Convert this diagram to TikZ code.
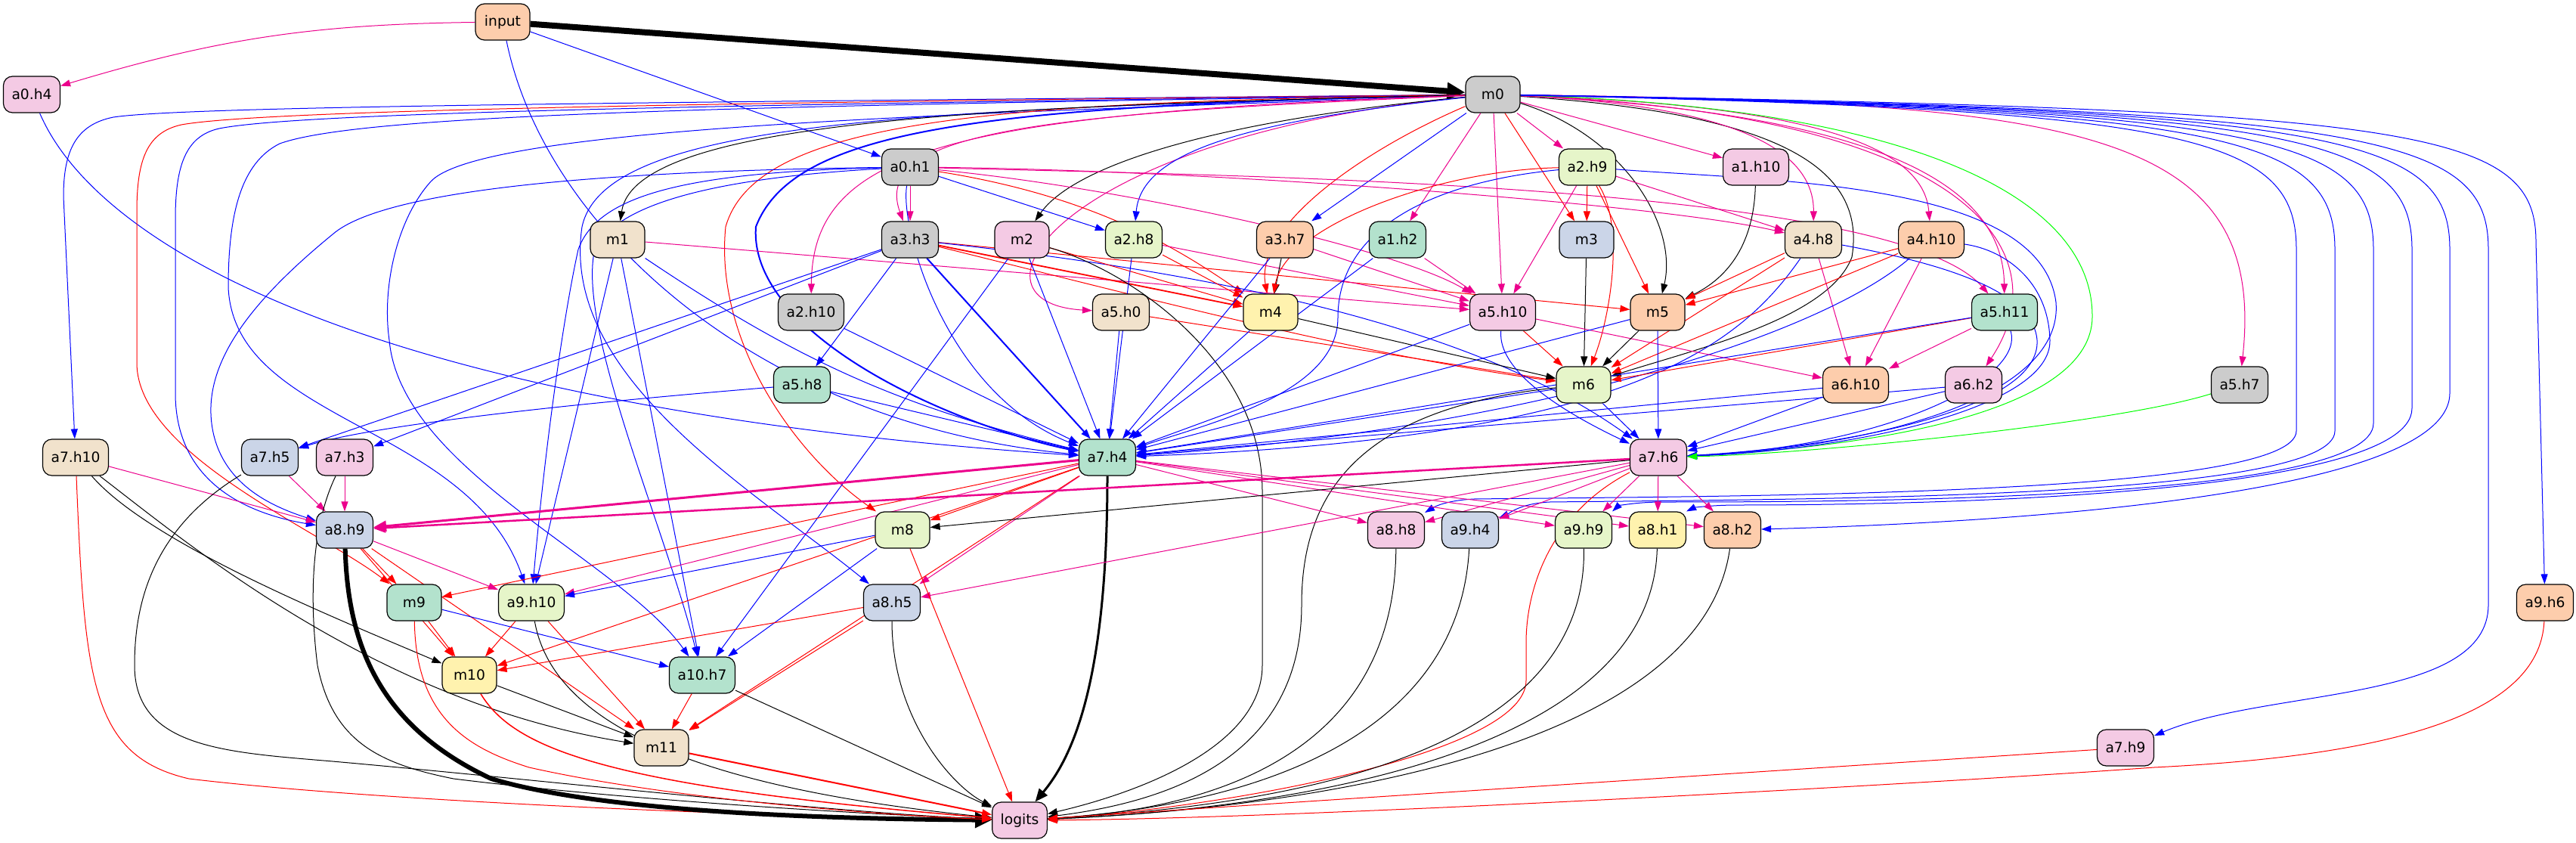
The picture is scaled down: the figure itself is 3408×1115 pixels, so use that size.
\documentclass[tikz,border=0pt]{standalone}
\usepackage{fontspec}
\setmainfont{DejaVu Sans}
\usetikzlibrary{arrows.meta}
\definecolor{cgreen}{HTML}{B3E2CD}
\definecolor{corange}{HTML}{FDCDAC}
\definecolor{cblue}{HTML}{CBD5E8}
\definecolor{cpink}{HTML}{F4CAE4}
\definecolor{clime}{HTML}{E6F5C9}
\definecolor{cyellow}{HTML}{FFF2AE}
\definecolor{cbeige}{HTML}{F1E2CC}
\definecolor{cgrey}{HTML}{CCCCCC}
\pgfdeclarelayer{back}
\pgfdeclarelayer{bg}
\pgfsetlayers{back,bg,main}
\tikzset{
  nd/.style={draw=black, line width=1.2pt, rounded corners=12pt, minimum width=72pt, minimum height=48pt, inner xsep=11pt, inner ysep=0pt, font=\fontsize{18.67pt}{22pt}\selectfont},
  edg/.style={line width=1pt, -{Triangle[length=13pt,width=9pt]}},
  eb/.style={edg, draw=blue},
  er/.style={edg, draw=red},
  em/.style={edg, draw=magenta},
  ek/.style={edg, draw=black},
  eg/.style={edg, draw=green},
}
\begin{document}
\begin{tikzpicture}[x=1pt,y=1pt]
\useasboundingbox (0,0) rectangle (3408,-1115);
\begin{pgfonlayer}{back}
\fill[white] (0,0) rectangle (3408,-1115);
\end{pgfonlayer}
% nodes
\node[nd, fill=corange] (input) at (665,-29) {input};
\node[nd, fill=cgrey] (m0) at (1975,-125) {m0};
\node[nd, fill=cpink] (a0h4) at (42,-125) {a0.h4};
\node[nd, fill=cgrey] (a0h1) at (1204,-221) {a0.h1};
\node[nd, fill=clime] (a2h9) at (2100,-221) {a2.h9};
\node[nd, fill=cpink] (a1h10) at (2323,-221) {a1.h10};
\node[nd, fill=cbeige] (m1) at (817,-317) {m1};
\node[nd, fill=cgrey] (a3h3) at (1204,-317) {a3.h3};
\node[nd, fill=cpink] (m2) at (1352,-317) {m2};
\node[nd, fill=clime] (a2h8) at (1500,-317) {a2.h8};
\node[nd, fill=corange] (a3h7) at (1700,-317) {a3.h7};
\node[nd, fill=cgreen] (a1h2) at (1849,-317) {a1.h2};
\node[nd, fill=cblue] (m3) at (2099,-317) {m3};
\node[nd, fill=cbeige] (a4h8) at (2399,-317) {a4.h8};
\node[nd, fill=corange] (a4h10) at (2555,-317) {a4.h10};
\node[nd, fill=cgrey] (a2h10) at (1073,-413) {a2.h10};
\node[nd, fill=cbeige] (a5h0) at (1483,-413) {a5.h0};
\node[nd, fill=cyellow] (m4) at (1681,-413) {m4};
\node[nd, fill=cpink] (a5h10) at (1988,-413) {a5.h10};
\node[nd, fill=corange] (m5) at (2193,-413) {m5};
\node[nd, fill=cgreen] (a5h11) at (2652,-413) {a5.h11};
\node[nd, fill=cgreen] (a5h8) at (1061,-509) {a5.h8};
\node[nd, fill=clime] (m6) at (2095,-509) {m6};
\node[nd, fill=corange] (a6h10) at (2455,-509) {a6.h10};
\node[nd, fill=cpink] (a6h2) at (2611,-509) {a6.h2};
\node[nd, fill=cgrey] (a5h7) at (2963,-509) {a5.h7};
\node[nd, fill=cbeige] (a7h10) at (100,-605) {a7.h10};
\node[nd, fill=cblue] (a7h5) at (357,-605) {a7.h5};
\node[nd, fill=cpink] (a7h3) at (456,-605) {a7.h3};
\node[nd, fill=cgreen] (a7h4) at (1465,-605) {a7.h4};
\node[nd, fill=cpink] (a7h6) at (2194,-605) {a7.h6};
\node[nd, fill=cblue] (a8h9) at (456,-701) {a8.h9};
\node[nd, fill=clime] (m8) at (1194,-701) {m8};
\node[nd, fill=cpink] (a8h8) at (1847,-701) {a8.h8};
\node[nd, fill=cblue] (a9h4) at (1945,-701) {a9.h4};
\node[nd, fill=clime] (a9h9) at (2095,-701) {a9.h9};
\node[nd, fill=cyellow] (a8h1) at (2193,-701) {a8.h1};
\node[nd, fill=corange] (a8h2) at (2292,-701) {a8.h2};
\node[nd, fill=cgreen] (m9) at (548,-797) {m9};
\node[nd, fill=clime] (a9h10) at (703,-797) {a9.h10};
\node[nd, fill=cblue] (a8h5) at (1180,-797) {a8.h5};
\node[nd, fill=corange] (a9h6) at (3367,-797) {a9.h6};
\node[nd, fill=cyellow] (m10) at (621,-893) {m10};
\node[nd, fill=cgreen] (a10h7) at (929,-893) {a10.h7};
\node[nd, fill=cbeige] (m11) at (875,-989) {m11};
\node[nd, fill=cpink] (a7h9) at (2812,-989) {a7.h9};
\node[nd, fill=cpink] (logits) at (1349,-1085) {logits};
\begin{pgfonlayer}{bg}
% input
\draw[ek, line width=8pt, -{Triangle[length=24pt,width=22pt]}] (input) -- (m0);
\draw[em] (input) to[bend right=8] (a0h4);
\draw[eb] (input) -- (a0h1);
\draw[eb] (input) .. controls (720,-300) and (1000,-560) .. (a7h4);
% a0h4
\draw[eb] (a0h4) .. controls (130,-330) and (500,-540) .. (a7h4);
% m0 left fan
\draw[eb] (m0) .. controls (900,-135) and (250,-140) .. (150,-155) .. controls (100,-165) and (84,-200) .. (84,-260) -- (a7h10);
\draw[er] (m0) .. controls (1000,-135) and (350,-145) .. (240,-165) .. controls (195,-175) and (181,-210) .. (181,-280) -- (181,-480) .. controls (181,-600) and (420,-700) .. (m9);
\draw[eb] (m0) .. controls (1000,-138) and (400,-148) .. (290,-170) .. controls (245,-180) and (232,-220) .. (232,-290) -- (232,-520) .. controls (232,-640) and (330,-680) .. (a8h9);
\draw[eb] (m0) .. controls (1000,-140) and (480,-150) .. (370,-190) .. controls (320,-215) and (302,-280) .. (302,-380) .. controls (310,-560) and (620,-560) .. (a9h10);
\draw[eb] (m0) .. controls (1300,-150) and (640,-165) .. (570,-240) .. controls (525,-290) and (505,-380) .. (515,-450) .. controls (530,-620) and (820,-740) .. (a10h7);
\draw[eb] (m0) .. controls (1200,-145) and (800,-160) .. (770,-300) .. controls (740,-500) and (1000,-650) .. (a8h5);
\draw[eb, line width=2pt] (m0) .. controls (1300,-140) and (1050,-170) .. (1000,-300) .. controls (990,-440) and (1250,-560) .. (a7h4);
\draw[er] (m0) .. controls (1300,-135) and (1000,-160) .. (960,-300) .. controls (945,-450) and (1050,-600) .. (m8);
\draw[ek] (m0) .. controls (1300,-140) and (840,-160) .. (m1);
\draw[em] (m0) .. controls (1400,-150) and (1150,-170) .. (a3h3);
\draw[em] (m0) .. controls (1250,-150) and (1075,-200) .. (a2h10);
\draw[em] (m0) .. controls (1400,-180) and (1260,-400) .. (a5h0);
\draw[ek] (m0) .. controls (1600,-160) and (1420,-220) .. (m2);
\draw[eb] (m0) .. controls (1650,-160) and (1510,-200) .. (a2h8);
\draw[er] (m0) .. controls (1800,-200) and (1660,-300) .. (m4);
\draw[eb] (m0) -- (a3h7);
\draw[em] (m0) -- (a1h2);
\draw[em] (m0) -- (a5h10);
\draw[er] (m0) -- (m3);
\draw[em] (m0) -- (a2h9);
\draw[em] (m0) -- (a1h10);
% m0 right fan
\draw[ek] (m0) .. controls (2150,-180) and (2220,-300) .. (m5);
\draw[ek] (m0) .. controls (2350,-150) and (2470,-220) .. (2450,-340) .. controls (2420,-420) and (2250,-460) .. (m6);
\draw[em] (m0) .. controls (2300,-140) and (2400,-200) .. (a4h8);
\draw[em] (m0) .. controls (2420,-140) and (2545,-200) .. (a4h10);
\draw[em] (m0) .. controls (2500,-150) and (2650,-250) .. (a5h11);
\draw[em] (m0) .. controls (2600,-150) and (2730,-330) .. (a6h2);
\draw[eg] (m0) .. controls (2500,-140) and (2770,-250) .. (2768,-420) .. controls (2766,-540) and (2500,-590) .. (a7h6);
\draw[em] (m0) .. controls (2750,-135) and (3000,-170) .. (a5h7);
\draw[eb] (m0) .. controls (3200,-145) and (3355,-170) .. (3355,-320) -- (a9h6);
\draw[eb] (m0) .. controls (3150,-145) and (3292,-180) .. (3292,-330) -- (3292,-800) .. controls (3292,-930) and (3000,-910) .. (a7h9);
\draw[eb] (m0) .. controls (3100,-145) and (3241,-180) .. (3241,-330) -- (3241,-520) .. controls (3241,-650) and (2700,-690) .. (a8h2);
\draw[eb] (m0) .. controls (3050,-145) and (3191,-180) .. (3191,-330) -- (3191,-540) .. controls (3191,-660) and (2500,-668) .. (2300,-668) .. controls (2260,-668) and (2240,-672) .. (a8h1.north east);
\draw[eb] (m0) .. controls (3000,-145) and (3140,-180) .. (3140,-330) -- (3140,-560) .. controls (3140,-662) and (2450,-664) .. (2200,-664) .. controls (2160,-664) and (2140,-670) .. (a9h9.north east);
\draw[eb] (m0) .. controls (2950,-145) and (3089,-180) .. (3089,-330) -- (3089,-570) .. controls (3089,-660) and (2400,-660) .. (2050,-664) .. controls (2010,-666) and (1995,-680) .. (a9h4);
\draw[eb] (m0) .. controls (2900,-145) and (3038,-180) .. (3038,-330) -- (3038,-570) .. controls (3038,-656) and (2300,-656) .. (1950,-660) .. controls (1910,-662) and (1895,-672) .. (a8h8);
% a0h1
\draw[em] (a0h1) -- (a3h3);
\draw[eb] (a0h1) -- (a2h8);
\draw[er] (a0h1) .. controls (1450,-260) and (1560,-330) .. (m4);
\draw[em] (a0h1) .. controls (1600,-225) and (2200,-270) .. (a4h8);
\draw[em] (a0h1) .. controls (1600,-232) and (2500,-240) .. (a5h11);
\draw[em] (a0h1) .. controls (1500,-250) and (1850,-330) .. (a5h10);
\draw[eb] (a0h1) .. controls (1190,-300) and (1250,-520) .. (a7h4);
\draw[eb] (a0h1) .. controls (900,-225) and (520,-240) .. (440,-310) .. controls (330,-400) and (270,-480) .. (280,-560) .. controls (290,-640) and (360,-670) .. (a8h9);
\draw[eb] (a0h1) .. controls (900,-228) and (790,-260) .. (765,-330) .. controls (745,-420) and (720,-600) .. (a9h10);
\draw[eb] (a0h1) .. controls (950,-235) and (800,-270) .. (785,-340) .. controls (770,-450) and (880,-700) .. (a10h7);
% m1
\draw[em] (m1) -- (a5h10);
\draw[eb] (m1) to[bend right=10] (a7h4);
\draw[eb] (m1) -- (a9h10);
\draw[eb] (m1) -- (a10h7);
% a3h3
\draw[er, line width=1.8pt] (a3h3) -- (m4);
\draw[er] (a3h3) -- (m5);
\draw[er] (a3h3) .. controls (1500,-390) and (1800,-470) .. (m6);
\draw[eb] (a3h3) -- (a5h8);
\draw[eb] (a3h3) -- (a7h5);
\draw[eb] (a3h3) -- (a7h3);
\draw[eb, line width=2pt] (a3h3) -- (a7h4);
\draw[eb] (a3h3) .. controls (1600,-360) and (1950,-430) .. (a7h6);
% m2
\draw[eb] (m2) -- (a7h4);
\draw[eb] (m2) -- (a10h7);
\draw[er] (m2) -- (m4);
\draw[ek] (m2) .. controls (1500,-360) and (1670,-480) .. (1670,-650) -- (1670,-880) .. controls (1670,-990) and (1500,-1050) .. (logits);
% a2h8, a3h7, a1h2
\draw[eb] (a2h8) -- (a7h4);
\draw[em] (a2h8) -- (a5h10);
\draw[er] (a2h8) -- (m4);
\draw[ek] (a3h7) -- (m4);
\draw[em] (a3h7) -- (a5h10);
\draw[eb] (a3h7) -- (a7h4);
\draw[em] (a1h2) -- (a5h10);
\draw[eb] (a1h2) -- (a7h4);
% a2h9
\draw[er] (a2h9) -- (m3);
\draw[em] (a2h9) -- (a4h8);
\draw[em] (a2h9) -- (a5h10);
\draw[er] (a2h9) .. controls (1900,-225) and (1700,-300) .. (m4);
\draw[eb] (a2h9) .. controls (1900,-240) and (1770,-300) .. (1770,-420) .. controls (1770,-520) and (1600,-560) .. (a7h4);
\draw[er] (a2h9) -- (m5);
\draw[er] (a2h9) .. controls (2150,-300) and (2130,-420) .. (m6);
\draw[eb] (a2h9) .. controls (2350,-240) and (2700,-240) .. (2720,-400) .. controls (2730,-520) and (2500,-590) .. (a7h6);
% a1h10, m3
\draw[ek] (a1h10) .. controls (2320,-330) and (2280,-370) .. (m5);
\draw[ek] (m3) -- (m6);
% a4h8
\draw[er] (a4h8) -- (m5);
\draw[er] (a4h8) -- (m6);
\draw[em] (a4h8) -- (a6h10);
\draw[eb] (a4h8) .. controls (2300,-460) and (2150,-580) .. (a7h4);
\draw[eb] (a4h8) .. controls (2550,-345) and (2690,-380) .. (2695,-450) .. controls (2700,-540) and (2450,-590) .. (a7h6);
% a4h10
\draw[er] (a4h10) -- (m5);
\draw[er] (a4h10) -- (m6);
\draw[em] (a4h10) -- (a6h10);
\draw[eb] (a4h10) .. controls (2400,-450) and (2000,-570) .. (a7h4);
\draw[eb] (a4h10) .. controls (2650,-330) and (2710,-370) .. (2712,-450) .. controls (2714,-540) and (2450,-595) .. (a7h6);
% rank 4
\draw[eb] (a2h10) -- (a7h4);
\draw[eb] (a5h0) -- (a7h4);
\draw[er] (a5h0) -- (m6);
\draw[ek] (m4) -- (m6);
\draw[eb] (m4) -- (a7h4);
\draw[er] (a5h10) -- (m6);
\draw[eb] (a5h10) .. controls (1980,-500) and (2100,-560) .. (a7h6);
\draw[eb] (a5h10) -- (a7h4);
\draw[em] (a5h10) -- (a6h10);
\draw[ek] (m5) -- (m6);
\draw[eb] (m5) -- (a7h6);
\draw[eb] (m5) -- (a7h4);
\draw[er] (a5h11) -- (m6);
\draw[em] (a5h11) -- (a6h10);
\draw[eb] (a5h11) -- (a7h4);
\draw[eb] (a5h11) .. controls (2680,-500) and (2500,-590) .. (a7h6);
% rank 5
\draw[eb] (a5h8) -- (a7h4);
\draw[eb] (a5h8) .. controls (800,-530) and (500,-560) .. (a7h5);
\draw[eb] (m6) -- (a7h6);
\draw[eb] (m6) -- (a7h4);
\draw[ek] (m6) .. controls (1800,-540) and (1722,-650) .. (1722,-800) .. controls (1722,-1000) and (1550,-1060) .. (logits);
\draw[eb] (a6h10) -- (a7h6);
\draw[eb] (a6h10) -- (a7h4);
\draw[eb] (a6h2) -- (a7h4);
\draw[eb] (a6h2) -- (a7h6);
\draw[eg] (a5h7) .. controls (2800,-560) and (2400,-600) .. (a7h6);
% rank 6
\draw[em] (a7h10) -- (a8h9);
\draw[ek] (a7h10) .. controls (200,-720) and (450,-820) .. (m10);
\draw[ek] (a7h10) .. controls (250,-720) and (500,-930) .. (m11);
\draw[er] (a7h10) .. controls (112,-900) and (120,-1000) .. (250,-1030) .. controls (500,-1060) and (1000,-1080) .. (logits);
\draw[em] (a7h5) -- (a8h9);
\draw[ek] (a7h5) .. controls (200,-700) and (178,-800) .. (178,-880) .. controls (178,-990) and (300,-995) .. (440,-1007) .. controls (700,-1030) and (1100,-1075) .. (logits);
\draw[em] (a7h3) -- (a8h9);
\draw[ek] (a7h3) .. controls (410,-700) and (410,-800) .. (420,-880) .. controls (440,-980) and (500,-1010) .. (600,-1030) .. controls (800,-1055) and (1100,-1075) .. (logits);
\draw[em, line width=3pt, -{Triangle[length=17pt,width=14pt]}] (a7h4) -- (a8h9);
\draw[er] (a7h4) -- (m8);
\draw[er] (a7h4) -- (m9);
\draw[em] (a7h4) -- (a9h10);
\draw[em] (a7h4) -- (a8h5);
\draw[er] (a7h4) -- (m10);
\draw[er] (a7h4) -- (m11);
\draw[em] (a7h4) -- (a8h8);
\draw[em] (a7h4) -- (a9h9);
\draw[em] (a7h4) -- (a8h1);
\draw[em] (a7h4) -- (a8h2);
\draw[ek, line width=3pt, -{Triangle[length=17pt,width=14pt]}] (a7h4) .. controls (1465,-900) and (1420,-1000) .. (logits);
\draw[em, line width=2.5pt, -{Triangle[length=16pt,width=13pt]}] (a7h6) -- (a8h9);
\draw[ek] (a7h6) -- (m8);
\draw[em] (a7h6) -- (a8h8);
\draw[em] (a7h6) -- (a9h4);
\draw[em] (a7h6) -- (a9h9);
\draw[em] (a7h6) -- (a8h1);
\draw[em] (a7h6) -- (a8h2);
\draw[em] (a7h6) -- (a8h5);
\draw[er] (a7h6) .. controls (2050,-680) and (2019,-780) .. (2019,-850) -- (2019,-900) .. controls (2019,-1000) and (1600,-1070) .. (logits);
% rank 7
\draw[ek, line width=6pt, -{Triangle[length=22pt,width=20pt]}] (a8h9) .. controls (460,-850) and (500,-960) .. (650,-1030) .. controls (800,-1075) and (1100,-1083) .. (logits);
\draw[er] (a8h9) -- (m9);
\draw[em] (a8h9) -- (a9h10);
\draw[er] (a8h9) -- (m10);
\draw[er] (a8h9) -- (m11);
\draw[eb] (m8) -- (a9h10);
\draw[eb] (m8) -- (a10h7);
\draw[er] (m8) -- (logits);
\draw[ek] (a8h8) .. controls (1845,-1000) and (1600,-1070) .. (logits);
\draw[ek] (a9h4) .. controls (1930,-980) and (1650,-1065) .. (logits);
\draw[ek] (a9h9) .. controls (2100,-1000) and (1700,-1065) .. (logits);
\draw[ek] (a8h1) .. controls (2185,-1000) and (1700,-1070) .. (logits);
\draw[ek] (a8h2) .. controls (2250,-1000) and (1700,-1070) .. (logits);
% rank 8
\draw[er] (m9) -- (m10);
\draw[eb] (m9) -- (a10h7);
\draw[er] (m9) .. controls (550,-950) and (620,-990) .. (700,-1015) .. controls (900,-1060) and (1200,-1080) .. (logits);
\draw[er] (a9h10) -- (m10);
\draw[er] (a9h10) -- (m11);
\draw[ek] (a9h10) .. controls (730,-950) and (900,-1040) .. (logits);
\draw[er] (a8h5) -- (m10);
\draw[er] (a8h5) -- (m11);
\draw[ek] (a8h5) .. controls (1180,-950) and (1260,-1040) .. (logits);
\draw[er] (a9h6) .. controls (3360,-950) and (3150,-1000) .. (2850,-1015) .. controls (2500,-1040) and (1700,-1083) .. (logits);
% rank 9-10
\draw[ek] (m10) -- (m11);
\draw[er, line width=1.5pt] (m10) .. controls (680,-990) and (800,-1040) .. (logits);
\draw[er] (a10h7) -- (m11);
\draw[ek] (a10h7) -- (logits);
\draw[er, line width=2pt] (m11) -- (logits);
\draw[er] (a7h9) -- (logits);
\end{pgfonlayer}
\end{tikzpicture}
\end{document}
